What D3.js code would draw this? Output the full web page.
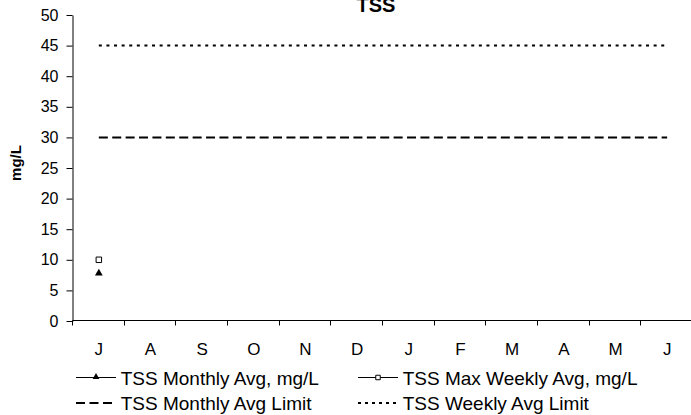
<!DOCTYPE html>
<html>
<head>
<meta charset="utf-8">
<script src="https://cdn.jsdelivr.net/npm/d3@7"></script>
<style>
  html, body { margin: 0; padding: 0; background: #fff; }
  svg { display: block; font-family: "Liberation Sans", Arial, sans-serif; }
</style>
</head>
<body>
<svg id="chart" width="691" height="415"></svg>
<script>
const months = ["J","A","S","O","N","D","J","F","M","A","M","J"];
const monthlyAvg = [7.8, null, null, null, null, null, null, null, null, null, null, null];
const maxWeeklyAvg = [10, null, null, null, null, null, null, null, null, null, null, null];
const monthlyLimit = [30,30,30,30,30,30,30,30,30,30,30,30];
const weeklyLimit = [45,45,45,45,45,45,45,45,45,45,45,45];
const yTicks = [0,5,10,15,20,25,30,35,40,45,50];
const titleText = "TSS";
const yLabel = "mg/L";
const legendLabels = ["TSS Monthly Avg, mg/L","TSS Max Weekly Avg, mg/L","TSS Monthly Avg Limit","TSS Weekly Avg Limit"];

(function(){
const svg = d3.select("#chart");
const pL = 73, pR = 693, pT = 15, pB = 321;
const idx = months.map((d,i)=>i);
const x = d3.scaleBand().domain(idx).range([pL, pR]);
const y = d3.scaleLinear().domain([0,50]).range([pB, pT]);
const cx = i => x(i) + x.bandwidth()/2;

// Title
svg.append("text").attr("x", 376).attr("y", 12).attr("text-anchor","middle")
  .attr("font-weight","bold").attr("font-size",20).text(titleText);

// Y axis title
svg.append("text").attr("transform","translate(21,163) rotate(-90)")
  .attr("text-anchor","middle").attr("font-weight","bold").attr("font-size",15).text(yLabel);

// Y axis
const yAxis = svg.append("g").attr("transform",`translate(${pL-0.5},0)`)
  .call(d3.axisLeft(y).tickValues(yTicks).tickSize(6).tickSizeOuter(0).tickPadding(8));
yAxis.attr("font-family",null).attr("font-size",null);
yAxis.selectAll("text").attr("font-size",16).attr("fill","#000");
yAxis.selectAll("line, path").attr("stroke","#000");

// X axis with ticks between categories
const xg = svg.append("g").attr("transform",`translate(0,${pB-0.5})`);
xg.append("line").attr("x1",pL-0.5).attr("x2",pR).attr("stroke","#000");
xg.selectAll("line.tk").data(idx.concat([12])).enter().append("line").attr("class","tk")
  .attr("x1", i => Math.round(pL + i*x.bandwidth()) - 0.5)
  .attr("x2", i => Math.round(pL + i*x.bandwidth()) - 0.5)
  .attr("y1",0).attr("y2",5).attr("stroke","#000");
xg.selectAll("text").data(idx).enter().append("text")
  .attr("x", i => cx(i)).attr("y", 34).attr("text-anchor","middle")
  .attr("font-size",17).text(i => months[i]);

// Limit lines
const line = d3.line().defined(d => d.v != null).x(d => cx(d.i)).y(d => y(d.v));
svg.append("path").datum(monthlyLimit.map((v,i)=>({i,v})))
  .attr("d", line).attr("fill","none").attr("stroke","#000").attr("stroke-width",2)
  .attr("stroke-dasharray","9,4.4");
svg.append("path").datum(weeklyLimit.map((v,i)=>({i,v})))
  .attr("d", line).attr("fill","none").attr("stroke","#000").attr("stroke-width",2)
  .attr("stroke-dasharray","3,4.6");

// Series lines (single points)
svg.append("path").datum(monthlyAvg.map((v,i)=>({i,v})))
  .attr("d", line).attr("fill","none").attr("stroke","#000");
svg.append("path").datum(maxWeeklyAvg.map((v,i)=>({i,v})))
  .attr("d", line).attr("fill","none").attr("stroke","#000");

const tri = d3.symbol().type(d3.symbolTriangle).size(26);
const sq = d3.symbol().type(d3.symbolSquare).size(30);
svg.selectAll("path.tri").data(monthlyAvg.map((v,i)=>({i,v})).filter(d=>d.v!=null)).enter()
  .append("path").attr("class","tri").attr("d", tri())
  .attr("transform", d => `translate(${cx(d.i)},${y(d.v)})`).attr("fill","#000");
svg.selectAll("path.sq").data(maxWeeklyAvg.map((v,i)=>({i,v})).filter(d=>d.v!=null)).enter()
  .append("path").attr("class","sq").attr("d", sq())
  .attr("transform", d => `translate(${cx(d.i)},${y(d.v)})`).attr("fill","#fff").attr("stroke","#000");

// Legend
const leg = svg.append("g");
const items = [
  {x:76, y:377.5, label:legendLabels[0], dash:null, sym:"tri"},
  {x:358, y:377.5, label:legendLabels[1], dash:null, sym:"sq"},
  {x:76, y:403, label:legendLabels[2], dash:"9,4.5", sym:null, w:2},
  {x:358, y:403, label:legendLabels[3], dash:"3,4", sym:null, w:2}
];
items.forEach(it => {
  const g = leg.append("g").attr("transform",`translate(${it.x},${it.y})`);
  g.append("line").attr("x1",0).attr("x2",40).attr("y1",0).attr("y2",0)
    .attr("stroke","#000").attr("stroke-width", it.w || 1)
    .attr("stroke-dasharray", it.dash);
  if (it.sym === "tri") g.append("path").attr("d", d3.symbol().type(d3.symbolTriangle).size(20)()).attr("transform","translate(20,-0.5)").attr("fill","#000");
  if (it.sym === "sq") g.append("path").attr("d", d3.symbol().type(d3.symbolSquare).size(20)()).attr("transform","translate(20,0)").attr("fill","#fff").attr("stroke","#000");
  g.append("text").attr("x",44.7).attr("y",7).attr("font-size",19).text(it.label);
});
})();
</script>
</body>
</html>
